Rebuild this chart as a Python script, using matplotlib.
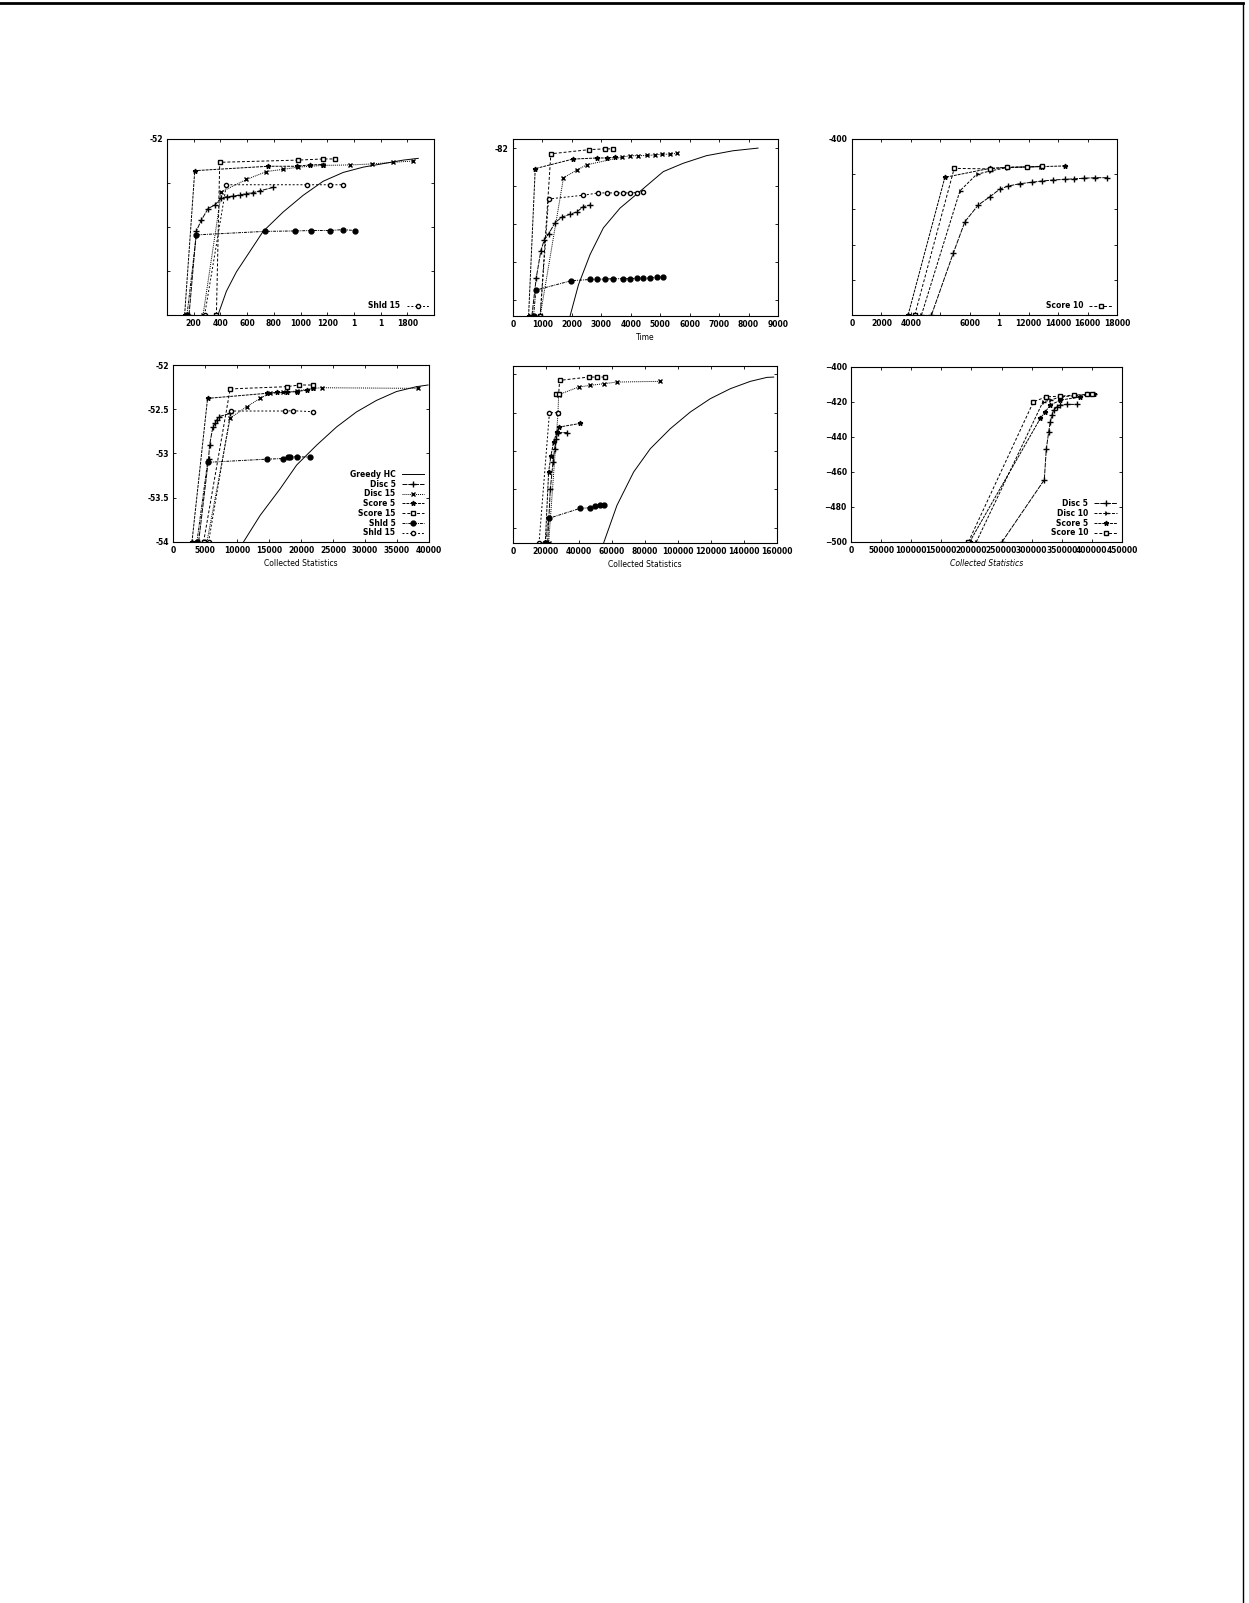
import matplotlib
matplotlib.use('Agg')
import matplotlib.pyplot as plt
from matplotlib.lines import Line2D
import numpy as np

# ---- top left: score vs time (legend cut to Shld 15) ----
tl_greedy_x = [382, 445, 520, 620, 720, 870, 1020, 1170, 1320, 1470, 1620, 1770, 1882]
tl_greedy_y = [-54.0, -53.73, -53.51, -53.28, -53.05, -52.83, -52.64, -52.48, -52.38, -52.32, -52.28, -52.24, -52.22]
tl_disc5_x = [165, 220, 258, 308, 358, 408, 450, 495, 545, 595, 645, 695, 795]
tl_disc5_y = [-54.0, -53.045, -52.92, -52.79, -52.75, -52.67, -52.655, -52.65, -52.636, -52.62, -52.61, -52.59, -52.55]
tl_disc15_x = [270, 408, 595, 745, 870, 982, 1170, 1370, 1532, 1695, 1845]
tl_disc15_y = [-54.0, -52.6, -52.46, -52.37, -52.345, -52.32, -52.30, -52.295, -52.284, -52.265, -52.25]
tl_score5_x = [132, 208, 758, 970, 1070, 1170]
tl_score5_y = [-54.0, -52.36, -52.31, -52.31, -52.295, -52.29]
tl_score15_x = [370, 395, 982, 1170, 1258]
tl_score15_y = [-54.0, -52.265, -52.24, -52.227, -52.227]
tl_shld5_x = [150, 220, 732, 958, 1082, 1220, 1315, 1408]
tl_shld5_y = [-54.0, -53.09, -53.05, -53.045, -53.04, -53.04, -53.03, -53.04]
tl_shld15_x = [282, 445, 1045, 1220, 1320]
tl_shld15_y = [-54.0, -52.52, -52.52, -52.52, -52.52]
tl_xticks = [200, 400, 600, 800, 1000, 1200, 1400, 1600, 1800]
tl_xlabels = ['200', '400', '600', '800', '1000', '1200', '1', '1', '1800']
tl_yticks = [-54, -53.5, -53, -52.5, -52]
tl_ylabels = ['', '', '', '', '-52']

# ---- top middle: score vs time ----
tm_greedy_x = [1942, 2224, 2620, 3071, 3636, 4313, 5103, 5780, 6571, 7474, 8321]
tm_greedy_y = [-84.206, -83.80, -83.40, -83.05, -82.79, -82.57, -82.31, -82.20, -82.10, -82.035, -82.0]
tm_disc5_x = [644, 790, 948, 1061, 1208, 1434, 1660, 1942, 2168, 2394, 2620]
tm_disc5_y = [-84.206, -83.71, -83.35, -83.21, -83.13, -82.98, -82.91, -82.87, -82.84, -82.77, -82.75]
tm_disc15_x = [926, 1716, 2168, 2506, 3692, 3974, 4256, 4539, 4821, 5047, 5329, 5555]
tm_disc15_y = [-84.206, -82.39, -82.29, -82.22, -82.12, -82.10, -82.10, -82.097, -82.09, -82.08, -82.08, -82.07]
tm_score5_x = [531, 756, 2032, 2845, 3184, 3466]
tm_score5_y = [-84.206, -82.27, -82.145, -82.13, -82.13, -82.12]
tm_score15_x = [926, 1287, 2597, 3127, 3387]
tm_score15_y = [-84.206, -82.075, -82.02, -82.01, -82.01]
tm_shld5_x = [700, 779, 1976, 2620, 2845, 3127, 3410, 3748, 3974, 4200, 4426, 4651, 4877, 5080]
tm_shld5_y = [-84.206, -83.87, -83.746, -83.73, -83.728, -83.724, -83.72, -83.72, -83.72, -83.715, -83.715, -83.71, -83.70, -83.697]
tm_shld15_x = [926, 1208, 2394, 2902, 3184, 3500, 3726, 3974, 4200, 4426]
tm_shld15_y = [-84.206, -82.67, -82.62, -82.59, -82.59, -82.59, -82.59, -82.59, -82.585, -82.58]
tm_xticks = [0, 1000, 2000, 3000, 4000, 5000, 6000, 7000, 8000, 9000]
tm_yticks = [-84, -83.5, -83, -82.5, -82]
tm_ylabels = ['', '', '', '', '-82']

# ---- top right: score vs time (legend cut to Score 10) ----
tr_disc5_x = [5403, 6878, 7673, 8581, 9375, 10056, 10624, 11418, 12213, 12894, 13688, 14483, 15050, 15731, 16526, 17320]
tr_disc5_y = [-500, -464.96, -446.97, -437.5, -432.77, -428.41, -426.7, -425.4, -424.6, -423.9, -423.3, -422.9, -422.7, -422.3, -422.0, -422.0]
tr_disc10_x = [4722, 7332, 8467, 9375, 10510, 11872, 12780]
tr_disc10_y = [-500, -429.5, -420.1, -418.2, -416.3, -415.9, -415.7]
tr_score5_x = [3814, 6311, 9375, 10510, 12894, 14483]
tr_score5_y = [-500, -421.8, -416.7, -416.1, -415.7, -415.3]
tr_score10_x = [4268, 6946, 9375, 10510, 11872, 12894]
tr_score10_y = [-500, -416.7, -417.0, -416.1, -415.9, -415.5]
tr_xticks = [0, 2000, 4000, 6000, 8000, 10000, 12000, 14000, 16000, 18000]
tr_xlabels = ['0', '2000', '4000', '', '6000', '1', '12000', '14000', '16000', '18000']
tr_yticks = [-500, -480, -460, -440, -420, -400]
tr_ylabels = ['', '', '', '', '', '-400']

# ---- bottom left: score vs collected statistics ----
bl_greedy_x = [11013, 13611, 16728, 19325, 22442, 25559, 28676, 31793, 34910, 38027, 39845]
bl_greedy_y = [-54.0, -53.70, -53.40, -53.13, -52.906, -52.70, -52.53, -52.40, -52.30, -52.245, -52.226]
bl_disc5_x = [4000, 5559, 5714, 6234, 6597, 6857, 7117, 8935]
bl_disc5_y = [-54.0, -53.057, -52.906, -52.698, -52.66, -52.62, -52.585, -52.547]
bl_disc15_x = [5299, 8935, 11533, 13611, 15169, 17247, 19325, 21923, 23222, 38287]
bl_disc15_y = [-54.0, -52.60, -52.47, -52.377, -52.32, -52.31, -52.294, -52.264, -52.257, -52.264]
bl_score5_x = [2961, 5403, 14650, 16208, 17767, 19325, 20884, 21923]
bl_score5_y = [-54.0, -52.377, -52.32, -52.31, -52.31, -52.30, -52.283, -52.264]
bl_score15_x = [4779, 8935, 17767, 19689, 21923]
bl_score15_y = [-54.0, -52.27, -52.245, -52.226, -52.226]
bl_shld5_x = [3740, 5403, 14650, 17247, 18027, 18286, 19325, 21403]
bl_shld5_y = [-54.0, -53.10, -53.064, -53.057, -53.04, -53.038, -53.038, -53.04]
bl_shld15_x = [5559, 9039, 17507, 18806, 21923]
bl_shld15_y = [-54.0, -52.52, -52.52, -52.517, -52.528]
bl_xticks = [0, 5000, 10000, 15000, 20000, 25000, 30000, 35000, 40000]
bl_yticks = [-54, -53.5, -53, -52.5, -52]
bl_ylabels = ['-54', '-53.5', '-53', '-52.5', '-52']

# ---- bottom middle: score vs collected statistics ----
bm_greedy_x = [54944, 63024, 73124, 83224, 95344, 107464, 119584, 131704, 143824, 153924, 157964]
bm_greedy_y = [-82.2, -81.709, -81.274, -80.97, -80.709, -80.491, -80.317, -80.187, -80.091, -80.039, -80.035]
bm_disc5_x = [21008, 22624, 24240, 25250, 26260, 27068, 32724]
bm_disc5_y = [-82.2, -81.5, -81.15, -80.97, -80.84, -80.76, -80.76]
bm_disc15_x = [21614, 27270, 27674, 39794, 46864, 54944, 63024, 89284]
bm_disc15_y = [-82.2, -80.51, -80.265, -80.165, -80.143, -80.122, -80.10, -80.091]
bm_score5_x = [19594, 21614, 23028, 24644, 26664, 28078, 40804]
bm_score5_y = [-82.2, -81.27, -81.06, -80.88, -80.75, -80.687, -80.64]
bm_score15_x = [26260, 27674, 28280, 45854, 50904, 55954]
bm_score15_y = [-80.26, -80.26, -80.078, -80.035, -80.035, -80.035]
bm_shld5_x = [19594, 21614, 40400, 46864, 49894, 52924, 54944]
bm_shld5_y = [-82.2, -81.88, -81.75, -81.74, -81.72, -81.709, -81.70]
bm_shld15_x = [15800, 22100, 27270]
bm_shld15_y = [-82.2, -80.5, -80.5]
bm_xticks = [0, 20000, 40000, 60000, 80000, 100000, 120000, 140000, 160000]
bm_yticks = [-82, -81.5, -81, -80.5, -80]

# ---- bottom right: score vs collected statistics ----
br_disc5_x = [250735, 321030, 324351, 328226, 331007, 333761, 336528, 342063, 347598, 358668, 375273]
br_disc5_y = [-500, -464.5, -446.9, -437.4, -431.3, -427.5, -424.7, -422.8, -421.8, -421.4, -421.4]
br_disc10_x = [208116, 318816, 331007, 347598, 369738, 391878, 402948]
br_disc10_y = [-500, -419.9, -419.0, -417.1, -416.5, -415.75, -415.56]
br_score5_x = [197046, 314388, 322690, 331007, 347598, 380808, 391878, 402948]
br_score5_y = [-500, -429.4, -425.6, -421.8, -419.0, -417.1, -415.75, -415.56]
br_score10_x = [195000, 303000, 324000, 347598, 369738, 391878, 400000]
br_score10_y = [-500, -419.9, -417.1, -416.7, -416.1, -415.75, -415.56]
br_xticks = [0, 50000, 100000, 150000, 200000, 250000, 300000, 350000, 400000, 450000]
br_yticks = [-500, -480, -460, -440, -420, -400]

styles = {
    'Greedy HC': dict(ls='-', marker=None),
    'Disc 5': dict(ls=(0, (5, 1)), marker='+', ms=4),
    'Disc 10': dict(ls=(0, (3, 1.5)), marker='4', ms=4),
    'Disc 15': dict(ls=(0, (1, 1)), marker='x', ms=3),
    'Score 5': dict(ls=(0, (3, 1)), marker='*', ms=3.5),
    'Score 10': dict(ls=(0, (3, 2)), marker='s', ms=3, mfc='white'),
    'Score 15': dict(ls=(0, (3, 2)), marker='s', ms=3, mfc='white'),
    'Shld 5': dict(ls=(0, (3, 1, 1, 1)), marker='o', ms=3.5),
    'Shld 15': dict(ls=(0, (2, 2)), marker='o', ms=3, mfc='white'),
}

plt.rcParams['font.family'] = 'DejaVu Sans'
plt.rcParams['font.size'] = 5.5
plt.rcParams['font.weight'] = 'bold'

fig = plt.figure(figsize=(12.49, 16.03), dpi=100)


def draw(ax, name, x, y):
    st = dict(styles[name])
    ax.plot(x, y, color='black', lw=0.7, label=name, mec='black', **st)


def finish(ax, xlim, ylim, xticks, yticks):
    ax.set_xlim(*xlim)
    ax.set_ylim(*ylim)
    ax.set_xticks(xticks)
    ax.set_yticks(yticks)
    ax.tick_params(direction='in', top=True, right=True, length=2.5, width=0.6,
                   labelsize=5.5, pad=3)
    for s in ax.spines.values():
        s.set_linewidth(0.8)


# top left
ax = fig.add_axes([0.1337, 0.8035, 0.2138, 0.1098])
draw(ax, 'Greedy HC', tl_greedy_x, tl_greedy_y)
draw(ax, 'Disc 5', tl_disc5_x, tl_disc5_y)
draw(ax, 'Disc 15', tl_disc15_x, tl_disc15_y)
draw(ax, 'Score 5', tl_score5_x, tl_score5_y)
draw(ax, 'Score 15', tl_score15_x, tl_score15_y)
draw(ax, 'Shld 5', tl_shld5_x, tl_shld5_y)
draw(ax, 'Shld 15', tl_shld15_x, tl_shld15_y)
finish(ax, (0, 2000), (-54, -52), tl_xticks, tl_yticks)
ax.set_xticklabels(tl_xlabels)
ax.set_yticklabels(tl_ylabels)
h, l = ax.get_legend_handles_labels()
ax.legend([h[-1]], [l[-1]], loc='lower right', frameon=False, markerfirst=False,
          fontsize=5.5, handlelength=3, borderaxespad=0.2)

# top middle
ax = fig.add_axes([0.4107, 0.8029, 0.2122, 0.1104])
draw(ax, 'Greedy HC', tm_greedy_x, tm_greedy_y)
draw(ax, 'Disc 5', tm_disc5_x, tm_disc5_y)
draw(ax, 'Disc 15', tm_disc15_x, tm_disc15_y)
draw(ax, 'Score 5', tm_score5_x, tm_score5_y)
draw(ax, 'Score 15', tm_score15_x, tm_score15_y)
draw(ax, 'Shld 5', tm_shld5_x, tm_shld5_y)
draw(ax, 'Shld 15', tm_shld15_x, tm_shld15_y)
finish(ax, (0, 9000), (-84.21, -81.88), tm_xticks, tm_yticks)
ax.set_yticklabels(tm_ylabels)
ax.set_xlabel('Time', fontsize=5.5, labelpad=3)

# top right
ax = fig.add_axes([0.6821, 0.8035, 0.2122, 0.1098])
draw(ax, 'Disc 5', tr_disc5_x, tr_disc5_y)
draw(ax, 'Disc 10', tr_disc10_x, tr_disc10_y)
draw(ax, 'Score 5', tr_score5_x, tr_score5_y)
draw(ax, 'Score 10', tr_score10_x, tr_score10_y)
finish(ax, (0, 18000), (-500, -400), tr_xticks, tr_yticks)
ax.set_xticklabels(tr_xlabels)
ax.set_yticklabels(tr_ylabels)
h, l = ax.get_legend_handles_labels()
ax.legend([h[-1]], [l[-1]], loc='lower right', frameon=False, markerfirst=False,
          fontsize=5.5, handlelength=3, borderaxespad=0.2)

# bottom left
ax = fig.add_axes([0.1385, 0.6619, 0.2050, 0.1104])
draw(ax, 'Greedy HC', bl_greedy_x, bl_greedy_y)
draw(ax, 'Disc 5', bl_disc5_x, bl_disc5_y)
draw(ax, 'Disc 15', bl_disc15_x, bl_disc15_y)
draw(ax, 'Score 5', bl_score5_x, bl_score5_y)
draw(ax, 'Score 15', bl_score15_x, bl_score15_y)
draw(ax, 'Shld 5', bl_shld5_x, bl_shld5_y)
draw(ax, 'Shld 15', bl_shld15_x, bl_shld15_y)
finish(ax, (0, 40000), (-54, -52), bl_xticks, bl_yticks)
ax.set_yticklabels(bl_ylabels)
ax.set_xlabel('Collected Statistics', fontsize=5.5, labelpad=3)
ax.legend(loc='lower right', frameon=False, markerfirst=False, fontsize=5.5,
          handlelength=3, labelspacing=0.1, borderaxespad=0.2)

# bottom middle
ax = fig.add_axes([0.4107, 0.6613, 0.2114, 0.1104])
draw(ax, 'Greedy HC', bm_greedy_x, bm_greedy_y)
draw(ax, 'Disc 5', bm_disc5_x, bm_disc5_y)
draw(ax, 'Disc 15', bm_disc15_x, bm_disc15_y)
draw(ax, 'Score 5', bm_score5_x, bm_score5_y)
draw(ax, 'Score 15', bm_score15_x, bm_score15_y)
draw(ax, 'Shld 5', bm_shld5_x, bm_shld5_y)
draw(ax, 'Shld 15', bm_shld15_x, bm_shld15_y)
finish(ax, (0, 160000), (-82.2, -79.89), bm_xticks, bm_yticks)
ax.set_yticklabels([])
ax.set_xlabel('Collected Statistics', fontsize=5.5, labelpad=3)

# bottom right
ax = fig.add_axes([0.6813, 0.6619, 0.2170, 0.1092])
draw(ax, 'Disc 5', br_disc5_x, br_disc5_y)
draw(ax, 'Disc 10', br_disc10_x, br_disc10_y)
draw(ax, 'Score 5', br_score5_x, br_score5_y)
draw(ax, 'Score 10', br_score10_x, br_score10_y)
finish(ax, (0, 450000), (-500, -400), br_xticks, br_yticks)
ax.set_xlabel('Collected Statistics', fontsize=5.5, labelpad=3, style='italic')
ax.legend(loc='lower right', frameon=False, markerfirst=False, fontsize=5.5,
          handlelength=3, labelspacing=0.1, borderaxespad=0.2)

# scanned page edges
fig.add_artist(Line2D([0.0, 0.995], [0.998, 0.998], color='black', lw=2))
fig.add_artist(Line2D([0.9955, 0.9955], [0.0, 0.998], color='black', lw=1))

fig.savefig('out.png', dpi=100, facecolor='white')
